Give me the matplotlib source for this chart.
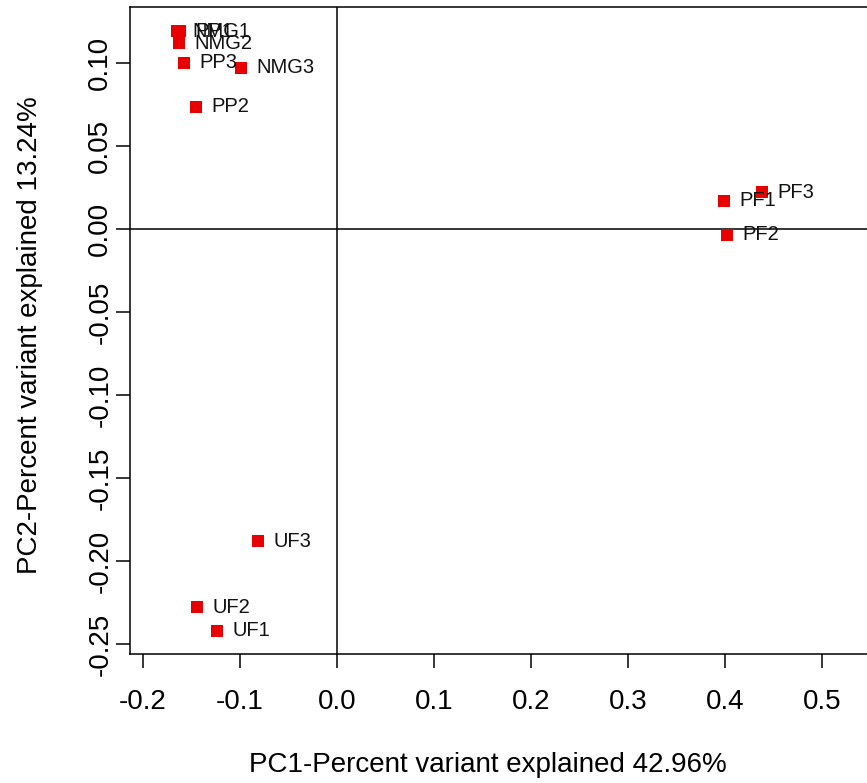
import numpy as np
import matplotlib.pyplot as plt

plt.rcParams['font.family'] = ['Liberation Sans', 'DejaVu Sans']

# PCA scores
samples = ['NMG1', 'PP1', 'NMG2', 'PP3', 'NMG3', 'PP2',
           'PF1', 'PF3', 'PF2', 'UF3', 'UF2', 'UF1']
pc1 = [-0.165, -0.162, -0.163, -0.158, -0.099, -0.145,
       0.399, 0.438, 0.402, -0.081, -0.144, -0.124]
pc2 = [0.119, 0.119, 0.112, 0.100, 0.097, 0.0735,
       0.017, 0.022, -0.0035, -0.188, -0.2277, -0.242]

xticks = [-0.2, -0.1, 0.0, 0.1, 0.2, 0.3, 0.4, 0.5]
yticks = [0.10, 0.05, 0.00, -0.05, -0.10, -0.15, -0.20, -0.25]

W, H = 867, 783
fig = plt.figure(figsize=(W / 100, H / 100), dpi=100)

# plot box: left 130px, top 7px, bottom 654px; right side runs off the image
left, top, bottom, right = 130, 7, 654, 919
ax = fig.add_axes([left / W, 1 - bottom / H, (right - left) / W, (bottom - top) / H])

ax.scatter(pc1, pc2, marker='s', s=75, color='#e80000', linewidths=0, zorder=3)
for name, x, y in zip(samples, pc1, pc2):
    ax.annotate(name, (x, y), xytext=(11, 0), textcoords='offset points',
                ha='left', va='center', fontsize=14.5, color='#111111', zorder=4)

ax.axhline(0, color='black', lw=1.1, zorder=1)
ax.axvline(0, color='black', lw=1.1, zorder=1)

ax.set_xlim(-0.2134, 0.5998)
ax.set_ylim(-0.256, 0.1337)

ax.set_xticks(xticks)
ax.set_xticklabels(['%.1f' % v for v in xticks])
ax.set_yticks(yticks)
ax.set_yticklabels(['%.2f' % v for v in yticks], rotation=90, va='center')
ax.tick_params(direction='out', length=10, width=1.1, labelsize=20)
ax.tick_params(axis='x', pad=15)
ax.tick_params(axis='y', pad=2)

for sp in ax.spines.values():
    sp.set_linewidth(1.1)

fig.text(488 / W, 1 - 765 / H, 'PC1-Percent variant explained 42.96%',
         ha='center', va='center', fontsize=20)
fig.text(30 / W, 1 - 335 / H, 'PC2-Percent variant explained 13.24%',
         ha='center', va='center', rotation=90, fontsize=20)

fig.savefig('out.png', dpi=100)
